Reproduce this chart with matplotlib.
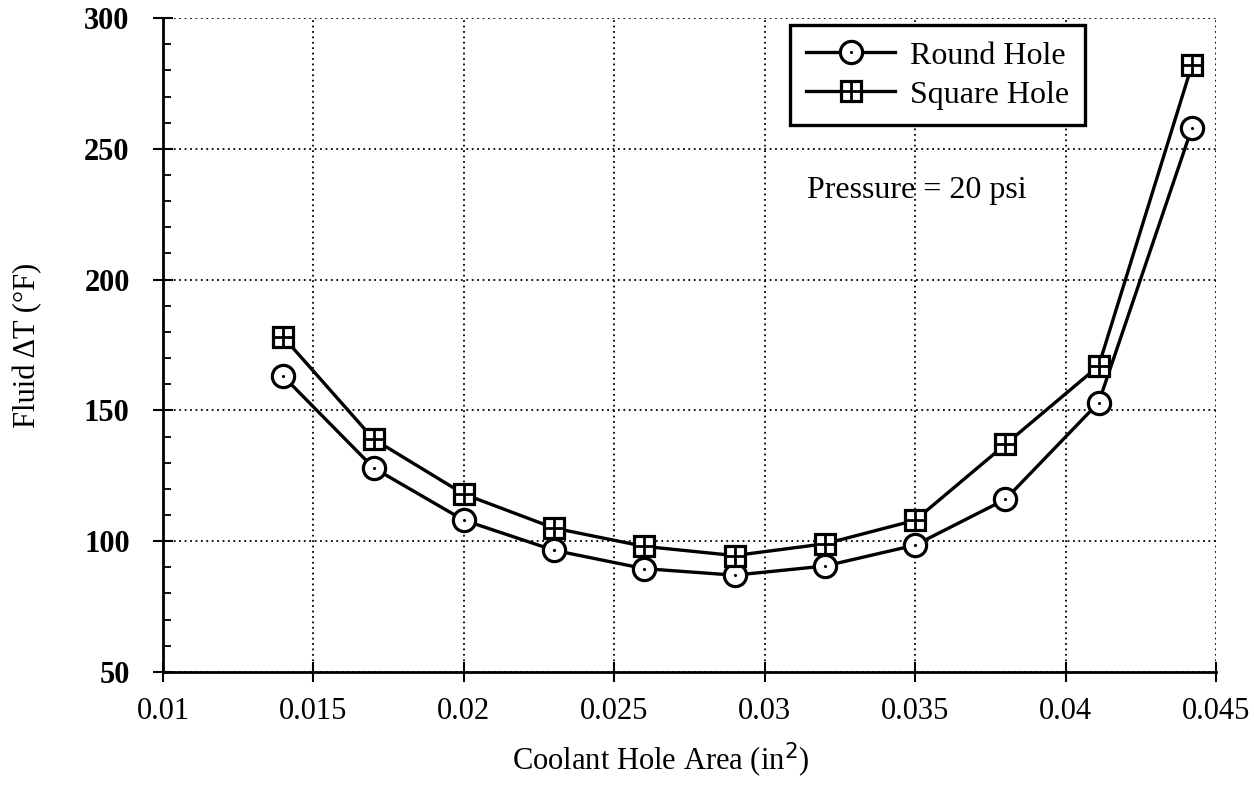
import numpy as np
import matplotlib.pyplot as plt
from matplotlib.ticker import MultipleLocator

plt.rcParams['font.family'] = ['Liberation Serif', 'DejaVu Serif']

# coolant hole area (in^2)
area = [0.014, 0.017, 0.020, 0.023, 0.026, 0.029, 0.032, 0.035, 0.038, 0.0411, 0.0442]
# fluid delta T (F)
round_dt = [163, 128, 108, 96.5, 89.5, 87, 90.5, 98.5, 116, 153, 258]
square_dt = [178, 139, 118, 105, 98, 94.5, 99, 108, 137, 167, 282]

xticks = [0.01, 0.015, 0.02, 0.025, 0.03, 0.035, 0.04, 0.045]
xticklabels = ['0.01', '0.015', '0.02', '0.025', '0.03', '0.035', '0.04', '0.045']
yticks = [50, 100, 150, 200, 250, 300]

fig = plt.figure(figsize=(12.54, 7.85), dpi=100)
ax = fig.add_axes([0.13, 0.144, 0.8397, 0.833])

lw = 2.4
r_line, = ax.plot(area, round_dt, color='k', lw=lw, marker='o', ms=16,
                  mfc='white', mec='k', mew=2.3, zorder=3)
r_dot, = ax.plot(area, round_dt, ls='none', marker='.', ms=2.5, color='k', zorder=4)
s_line, = ax.plot(area, square_dt, color='k', lw=lw, marker='s', ms=14,
                  mfc='white', mec='k', mew=2.3, zorder=3)
s_cross, = ax.plot(area, square_dt, ls='none', marker='+', ms=14, mew=2.0,
                   color='k', zorder=4)

ax.set_xlim(0.01, 0.045)
ax.set_ylim(50, 300)
ax.set_xticks(xticks)
ax.set_xticklabels(xticklabels)
ax.set_yticks(yticks)
ax.yaxis.set_minor_locator(MultipleLocator(10))

ax.grid(True, which='major', ls=(0, (1, 2)), color='k', lw=1.3)
for side in ['top', 'right']:
    ax.spines[side].set_visible(False)
for side in ['left', 'bottom']:
    ax.spines[side].set_linewidth(2)

ax.tick_params(axis='both', which='major', direction='inout', length=14,
               width=1.5, labelsize=22)
ax.tick_params(axis='x', which='major', pad=11)
ax.tick_params(axis='y', which='major', pad=17)
ax.tick_params(axis='y', which='minor', direction='in', length=6, width=1.3)
for lab in ax.get_yticklabels():
    lab.set_fontweight('bold')

ax.set_xlabel('Coolant Hole Area (in$^2$)', fontsize=22)
ax.xaxis.set_label_coords(0.473, -0.106)
ax.set_ylabel('Fluid ΔT (°F)', fontsize=22, labelpad=30)

ax.text(0.03507, 234, 'Pressure = 20 psi', fontsize=23, ha='center', va='center')

leg = ax.legend([(r_line, r_dot), (s_line, s_cross)], ['Round Hole', 'Square Hole'],
                loc='upper left', bbox_to_anchor=(0.5954, 0.989), fontsize=23,
                frameon=True, fancybox=False, edgecolor='k', framealpha=1,
                handlelength=2.8, handletextpad=0.45, borderpad=0.5,
                labelspacing=0.3, borderaxespad=0)
leg.get_frame().set_linewidth(2.4)

fig.savefig('out.png', dpi=100)
